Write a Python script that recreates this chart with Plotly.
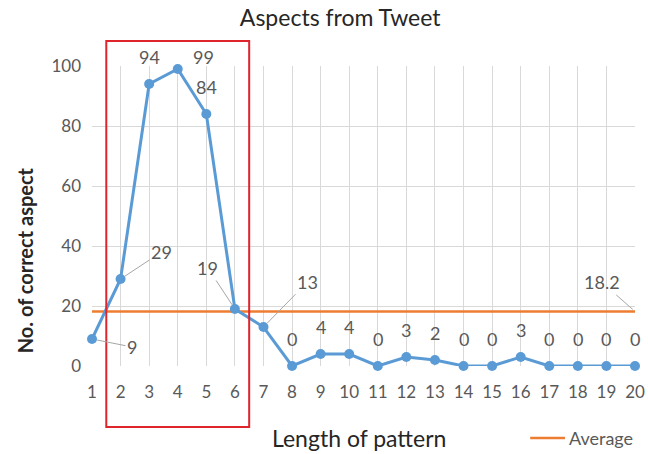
import plotly.graph_objects as go

lengths = list(range(1, 21))
correct = [9, 29, 94, 99, 84, 19, 13, 0, 4, 4, 0, 3, 2, 0, 0, 3, 0, 0, 0, 0]
average = 18.2

# label offsets (pixels) for labels with leader lines
leader = {1: (40, 8), 2: (41, -27), 6: (-27, -41), 7: (44, -45)}
shift_x = {4: 26}
shift_y = {4: 12}

FONT = "Lato, Open Sans, sans-serif"
GRAY = "#595959"
DARK = "#262626"

fig = go.Figure()
fig.add_trace(go.Scatter(
    x=lengths, y=[average] * len(lengths), mode="lines",
    line=dict(color="#ED7D31", width=2.5), name="Average",
    showlegend=False, cliponaxis=False, hoverinfo="skip"))
fig.add_trace(go.Scatter(
    x=lengths, y=correct, mode="lines+markers",
    line=dict(color="#5B9BD5", width=3),
    marker=dict(color="#5B9BD5", size=10),
    showlegend=False, cliponaxis=False))

ann = []
for x, v in zip(lengths, correct):
    if x in leader:
        ax, ay = leader[x]
        ann.append(dict(x=x, y=v, text=str(v), showarrow=True, arrowhead=0,
                        arrowwidth=1, arrowcolor="#A6A6A6", ax=ax, ay=ay,
                        standoff=5, font=dict(size=18, color=GRAY, family=FONT)))
    else:
        ann.append(dict(x=x, y=v, text=str(v), showarrow=False,
                        yshift=shift_y.get(x, 27), xshift=shift_x.get(x, 0),
                        font=dict(size=18, color=GRAY, family=FONT)))
ann.append(dict(x=20, y=average, text=str(average), showarrow=True, arrowhead=0,
                arrowwidth=1, arrowcolor="#A6A6A6", ax=-33, ay=-29, standoff=3,
                font=dict(size=18, color=GRAY, family=FONT)))
# axis titles
ann.append(dict(xref="paper", yref="paper", x=0.492, y=-0.24, text="Length of pattern",
                showarrow=False, yanchor="middle",
                font=dict(size=23, color=DARK, family=FONT)))
ann.append(dict(xref="paper", yref="paper", x=-0.123, y=0.353, text="<b>No. of correct aspect</b>",
                textangle=-90, showarrow=False, xanchor="center", yanchor="middle",
                font=dict(size=20, color=DARK, family=FONT)))
# legend
ann.append(dict(xref="paper", yref="paper", x=0.875, y=-0.24, text="Average",
                showarrow=False, xanchor="left", yanchor="middle",
                font=dict(size=18, color=GRAY, family=FONT)))

shapes = [
    dict(type="line", xref="paper", yref="paper", x0=0.807, x1=0.871, y0=-0.24, y1=-0.24,
         line=dict(color="#ED7D31", width=2.5)),
    dict(type="rect", xref="x", yref="paper", x0=1.5, x1=6.5, y0=-0.203, y1=1.083,
         line=dict(color="#E0242C", width=2)),
]

fig.update_layout(
    width=648, height=454,
    margin=dict(l=92, r=13, t=66, b=88),
    paper_bgcolor="white", plot_bgcolor="white",
    title=dict(text="Aspects from Tweet", x=0.525, xanchor="center",
               y=0.96, yanchor="middle", yref="container",
               font=dict(size=23, color=DARK, family=FONT)),
    annotations=ann, shapes=shapes,
    font=dict(family=FONT),
)
fig.update_xaxes(range=[1, 20], tickmode="array", tickvals=lengths,
                 showgrid=True, gridcolor="#D9D9D9", gridwidth=1,
                 showline=False, zeroline=False, automargin=False,
                 tickfont=dict(size=17, color=GRAY, family=FONT),
                 ticklabelstandoff=14)
fig.update_yaxes(range=[0, 100], tickvals=[0, 20, 40, 60, 80, 100],
                 showgrid=True, gridcolor="#D9D9D9", gridwidth=1,
                 zeroline=False, showline=False, automargin=False,
                 tickfont=dict(size=17, color=GRAY, family=FONT),
                 ticklabelstandoff=10)

# remove the browser's default 8px body margin so the figure fills the window
fig.write_html("out.html", config={"displayModeBar": False},
               post_script="document.body.style.margin='0';document.body.style.overflow='hidden';")
